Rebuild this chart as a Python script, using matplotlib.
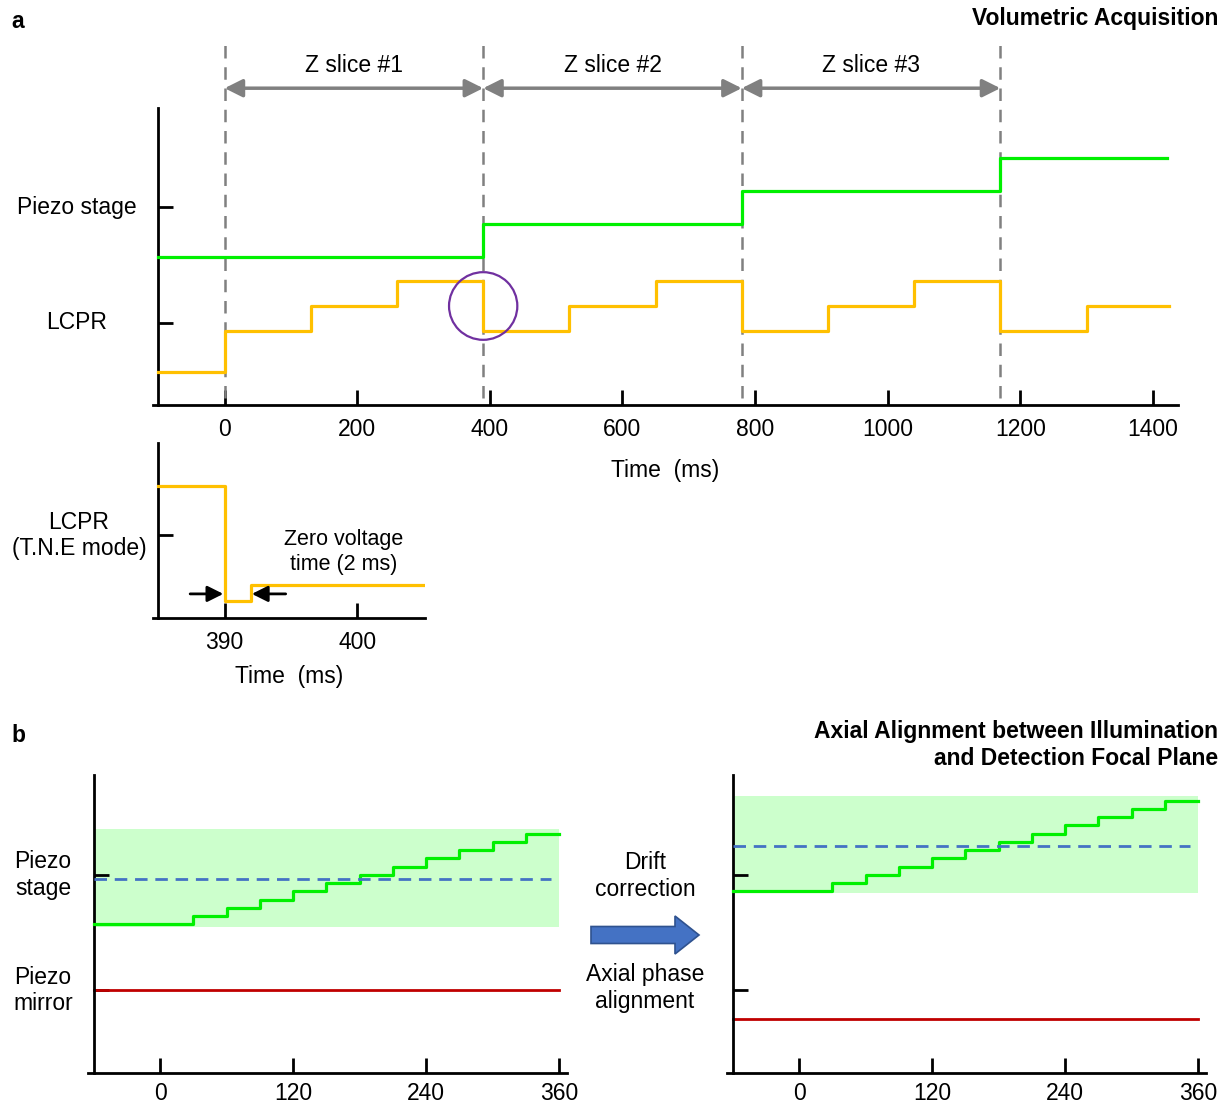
import matplotlib
matplotlib.use("Agg")
import matplotlib.pyplot as plt
from matplotlib.patches import Ellipse, FancyArrow
from matplotlib.transforms import blended_transform_factory

plt.rcParams['font.family'] = ['Liberation Sans', 'DejaVu Sans']

# ---------------- data ----------------
# panel a: volumetric acquisition
piezo_edges = [-100, 390, 780, 1170, 1422]
piezo_levels = [4.5, 5.5, 6.5, 7.5]
lcpr_edges = [-100, 0, 130, 260, 390, 520, 650, 780, 910, 1040, 1170, 1300, 1425]
lcpr_levels = [1.0, 2.25, 3.0, 3.75, 2.25, 3.0, 3.75, 2.25, 3.0, 3.75, 2.25, 3.0]
slice_bounds = [0, 390, 780, 1170]
slice_labels = ['Z slice #1', 'Z slice #2', 'Z slice #3']
time_ticks_a = [0, 200, 400, 600, 800, 1000, 1200, 1400]
ytick_pos_a = [2.5, 6.0]
ytick_labels_a = ['LCPR', 'Piezo stage']

# inset: LCPR T.N.E mode
tne_edges = [385, 390, 392, 405.1]
tne_levels = [4.0, 0.5, 1.0]
tne_ticks = [390, 400]

# panel b
phase_edges = [-60, 30, 60, 90, 120, 150, 180, 210, 240, 270, 300, 330, 360]
stage_before = [4.5, 4.75, 5.0, 5.25, 5.5, 5.75, 6.0, 6.25, 6.5, 6.75, 7.0, 7.25]
stage_after = [5.5, 5.75, 6.0, 6.25, 6.5, 6.75, 7.0, 7.25, 7.5, 7.75, 8.0, 8.25]
band_before = (4.42, 7.39)
band_after = (5.45, 8.39)
focal_before = 5.88
focal_after = 6.88
mirror_before = 2.5
mirror_after = 1.64
phase_ticks = [0, 120, 240, 360]
ytick_pos_b = [2.5, 6.0]

# ---------------- colours ----------------
GREEN = '#00f000'
ORANGE = '#ffc000'
RED = '#c00000'
BLUE = '#4472c4'
BAND = '#ccffcc'
PURPLE = '#7030a0'
GRAY = '#808080'

W, H = 1223, 1105
fig = plt.figure(figsize=(W / 100, H / 100), dpi=100)
FS = 16.5


def pax(l, t, r, b):
    return fig.add_axes([l / W, 1 - b / H, (r - l) / W, (b - t) / H])


def style(ax, spine_x, pad=9.5):
    for s in ['top', 'right']:
        ax.spines[s].set_visible(False)
    ax.spines['left'].set_position(('data', spine_x))
    ax.spines['left'].set_linewidth(2)
    ax.spines['bottom'].set_linewidth(2)
    ax.tick_params(direction='in', length=11, width=2, labelsize=FS, pad=pad)
    ax.patch.set_alpha(0)


def steps(edges, levels):
    return list(edges), list(levels) + [levels[-1]]


# ---------------- panel a main ----------------
ax = pax(153, 108, 1178, 405)
style(ax, -100)
ax.set_xlim(-108, 1438)
ax.set_ylim(0, 9)
ax.set_xticks(time_ticks_a)
ax.set_yticks(ytick_pos_a)
ax.set_yticklabels([])
ax.set_xlabel('Time  (ms)', fontsize=FS, labelpad=13)

x, y = steps(piezo_edges, piezo_levels)
ax.plot(x, y, drawstyle='steps-post', color=GREEN, lw=2.3, zorder=3)
x, y = steps(lcpr_edges, lcpr_levels)
ax.plot(x, y, drawstyle='steps-post', color=ORANGE, lw=2.3, zorder=3)

for b in slice_bounds:
    ax.plot([b, b], [0.2, 11.1], color=GRAY, lw=1.8, dashes=(5, 3.5),
            clip_on=False, zorder=2)
for i, lab in enumerate(slice_labels):
    a0, a1 = slice_bounds[i], slice_bounds[i + 1]
    ax.annotate('', xy=(a1, 9.6), xytext=(a0, 9.6),
                arrowprops=dict(arrowstyle='<|-|>,head_length=0.6,head_width=0.3',
                                color=GRAY, lw=2.5, shrinkA=0, shrinkB=0,
                                mutation_scale=18),
                annotation_clip=False)
    ax.text((a0 + a1) / 2, 10.3, lab, ha='center', va='center', fontsize=FS)

ax.add_patch(Ellipse((390, 3.0), width=103, height=2.05, fill=False,
                     ec=PURPLE, lw=1.6, zorder=4))

tr = blended_transform_factory(fig.transFigure, ax.transData)
for p, lab in zip(ytick_pos_a, ytick_labels_a):
    ax.text(77 / W, p, lab, transform=tr, ha='center', va='center', fontsize=FS)

# ---------------- inset ----------------
ai = pax(153, 443, 425, 618)
style(ai, 385)
ai.set_xlim(384.6, 405.1)
ai.set_ylim(0, 5.3)
ai.set_xticks(tne_ticks)
ai.set_yticks([2.5])
ai.set_yticklabels([])
ai.set_xlabel('Time  (ms)', fontsize=FS, labelpad=8)
x, y = steps(tne_edges, tne_levels)
ai.plot(x, y, drawstyle='steps-post', color=ORANGE, lw=2.3, zorder=3)
ai.text(399.0, 2.0, 'Zero voltage\ntime (2 ms)', ha='center', va='center',
        fontsize=FS - 1)
ai.annotate('', xy=(389.9, 0.73), xytext=(387.4, 0.73),
            arrowprops=dict(arrowstyle='-|>,head_length=0.6,head_width=0.3',
                            color='black', lw=2, shrinkA=0, shrinkB=0,
                            mutation_scale=16))
ai.annotate('', xy=(392.05, 0.73), xytext=(394.6, 0.73),
            arrowprops=dict(arrowstyle='-|>,head_length=0.6,head_width=0.3',
                            color='black', lw=2, shrinkA=0, shrinkB=0,
                            mutation_scale=16))
tri = blended_transform_factory(fig.transFigure, ai.transData)
ai.text(79 / W, 2.5, 'LCPR\n(T.N.E mode)', transform=tri, ha='center',
        va='center', fontsize=FS)

# ---------------- panel b ----------------
def phase_panel(l, r, stage, band, focal, mirror, labels):
    a = pax(l, 775, r, 1073)
    style(a, -60, pad=6.5)
    a.set_xlim(-65, 367)
    a.set_ylim(0, 9.03)
    a.set_xticks(phase_ticks)
    a.set_yticks(ytick_pos_b)
    a.set_yticklabels([])
    a.fill_between([-60, 360], band[0], band[1], color=BAND, lw=0, zorder=1)
    x, y = steps(phase_edges, stage)
    a.plot(x, y, drawstyle='steps-post', color=GREEN, lw=2.3, zorder=3)
    a.plot([-60, 353], [focal, focal], color=BLUE, lw=2, dashes=(4.5, 2.8), zorder=3)
    a.plot([-60, 360], [mirror, mirror], color=RED, lw=2, zorder=2)
    if labels:
        t = blended_transform_factory(fig.transFigure, a.transData)
        a.text(43 / W, 6.0, 'Piezo\nstage', transform=t, ha='center',
               va='center', fontsize=FS)
        a.text(43 / W, 2.5, 'Piezo\nmirror', transform=t, ha='center',
               va='center', fontsize=FS)
    return a


phase_panel(88, 567, stage_before, band_before, focal_before, mirror_before, True)
phase_panel(727, 1206, stage_after, band_after, focal_after, mirror_after, False)

# ---------------- overlay: titles, middle arrow ----------------
ov = fig.add_axes([0, 0, 1, 1], zorder=-1)
ov.set_xlim(0, W)
ov.set_ylim(H, 0)
ov.axis('off')
ov.text(18, 22, 'a', fontsize=16.5, fontweight='bold', ha='center', va='center')
ov.text(18, 736, 'b', fontsize=16.5, fontweight='bold', ha='center', va='center')
ov.text(1218, 19, 'Volumetric Acquisition', fontsize=16.5, fontweight='bold',
        ha='right', va='center')
ov.text(1218, 745, 'Axial Alignment between Illumination\nand Detection Focal Plane',
        fontsize=16.5, fontweight='bold', ha='right', va='center', linespacing=1.2)
ov.text(645, 876, 'Drift\ncorrection', fontsize=FS, ha='center', va='center')
ov.text(645, 988, 'Axial phase\nalignment', fontsize=FS, ha='center', va='center')
ov.add_patch(FancyArrow(591, 935, 108, 0, width=17, head_width=38,
                        head_length=24, length_includes_head=True,
                        fc=BLUE, ec='#2f528f', lw=1.2))

fig.savefig('out.png', dpi=100)
